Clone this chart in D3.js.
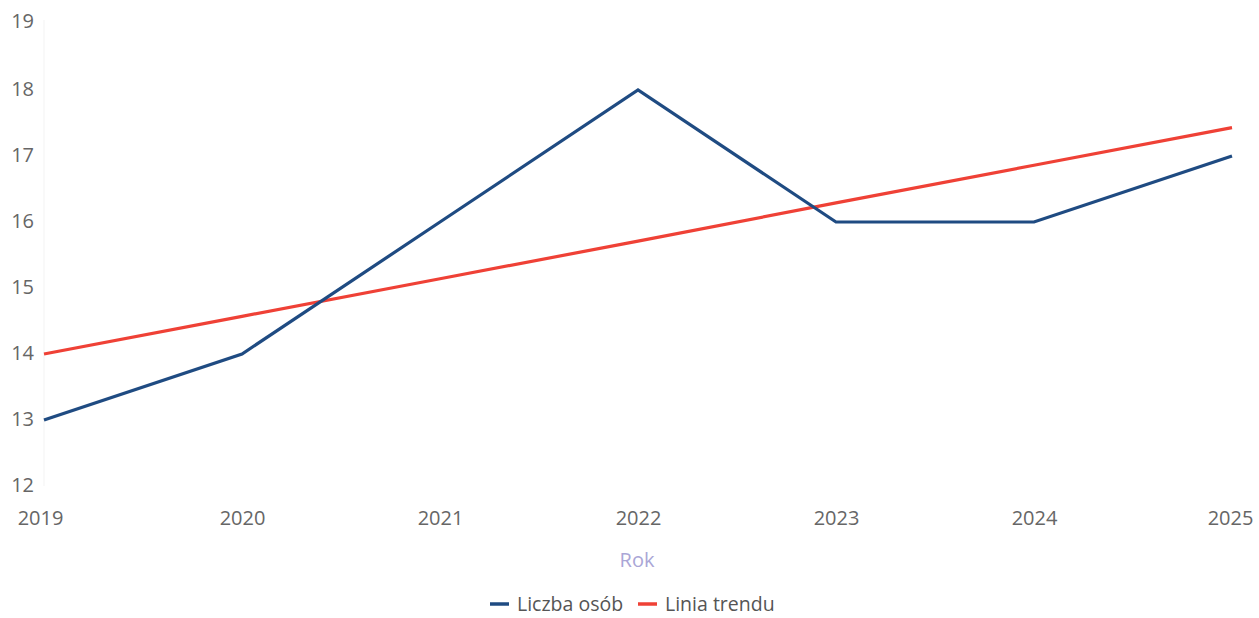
<!DOCTYPE html>
<html>
<head>
<meta charset="utf-8">
<script src="https://cdn.jsdelivr.net/npm/d3@7"></script>
<style>
  body { margin: 0; background: #fff; }
  text { font-family: "Open Sans", sans-serif; }
</style>
</head>
<body>
<svg width="1259" height="618"></svg>
<script>
// Chart data.
const years = [2019, 2020, 2021, 2022, 2023, 2024, 2025];
const people = [13, 14, 16, 18, 16, 16, 17];
const trend = [14.0, 14.57, 15.14, 15.71, 16.29, 16.86, 17.43];
const yTicks = [12, 13, 14, 15, 16, 17, 18, 19];
const seriesNames = ["Liczba osób", "Linia trendu"];

function initGraph() {
  const svg = d3.select("svg");

  const margin = { top: 24, right: 27, bottom: 132, left: 44 };
  const width = +svg.attr("width") - margin.left - margin.right;
  const height = +svg.attr("height") - margin.top - margin.bottom;

  const content = svg.append("g")
    .attr("transform", "translate(" + margin.left + "," + margin.top + ")");

  const xScale = d3.scalePoint().domain(years).range([0, width]);
  const yScale = d3.scaleLinear().domain([12, 19]).range([height, 0]);

  return { svg, content, margin, width, height, xScale, yScale };
}

function drawAxes(graph) {
  const { content, xScale, yScale, height } = graph;

  // faint left edge line
  content.append("line")
    .attr("x1", 0).attr("x2", 0)
    .attr("y1", -4).attr("y2", height)
    .attr("stroke", "#f3f3f3")
    .attr("stroke-width", 1);

  const yAxis = d3.axisLeft(yScale)
    .tickValues(yTicks)
    .tickSize(0)
    .tickPadding(10)
    .tickFormat(d3.format("d"));

  const yg = content.append("g").attr("class", "y axis").call(yAxis);
  yg.select(".domain").remove();
  yg.selectAll("text")
    .attr("fill", "#666")
    .attr("dy", "0.28em")
    .style("font-size", "20px");
  yg.select(".tick:last-of-type text").attr("dy", "0.18em");

  const xAxis = d3.axisBottom(xScale)
    .tickSize(0)
    .tickPadding(25)
    .tickFormat(d3.format("d"));

  const xg = content.append("g")
    .attr("class", "x axis")
    .attr("transform", "translate(0," + height + ")")
    .call(xAxis);
  xg.select(".domain").remove();
  xg.selectAll("text")
    .attr("fill", "#666")
    .style("font-size", "20px");
  // first and last label sit a little inward like the original
  xg.selectAll(".tick text")
    .attr("dx", (d, i) => i === 0 ? -4 : (i === years.length - 1 ? -2 : 0));

  graph.svg.append("text")
    .attr("x", 637)
    .attr("y", 567)
    .attr("text-anchor", "middle")
    .attr("fill", "#aaa6d6")
    .style("font-size", "20px")
    .text("Rok");
}

function drawLines(graph) {
  const { content, xScale, yScale } = graph;

  const line = d3.line()
    .x((d, i) => xScale(years[i]))
    .y(d => yScale(d));

  content.append("path")
    .datum(trend)
    .attr("fill", "none")
    .attr("stroke", "#ef4136")
    .attr("stroke-width", 3.2)
    .attr("d", line);

  content.append("path")
    .datum(people)
    .attr("fill", "none")
    .attr("stroke", "#1f4b82")
    .attr("stroke-width", 3.2)
    .attr("stroke-linejoin", "miter")
    .attr("d", line);
}

function drawLegend(graph) {
  const colors = ["#1f4b82", "#ef4136"];
  const xs = [490, 638];
  const legend = graph.svg.append("g");

  seriesNames.forEach((name, i) => {
    legend.append("line")
      .attr("x1", xs[i]).attr("x2", xs[i] + 19)
      .attr("y1", 604).attr("y2", 604)
      .attr("stroke", colors[i])
      .attr("stroke-width", 3.5);
    legend.append("text")
      .attr("x", xs[i] + 27)
      .attr("y", 611)
      .attr("fill", "#555")
      .style("font-size", "19.5px")
      .text(name);
  });
}

window.addEventListener("load", function() {
  const graph = initGraph();
  drawAxes(graph);
  drawLines(graph);
  drawLegend(graph);
});
</script>
</body>
</html>
